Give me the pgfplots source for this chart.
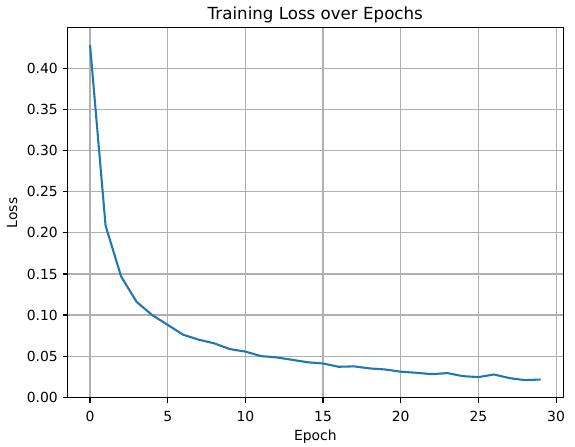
\documentclass[border=0pt]{standalone}
\usepackage{fontspec}
\setmainfont{DejaVu Sans}
\usepackage{pgfplots}
\pgfplotsset{compat=1.18}
\definecolor{tabblue}{HTML}{1F77B4}
\definecolor{gridgray}{HTML}{B0B0B0}
\begin{document}
\begin{tikzpicture}
\path[use as bounding box] (0,0) rectangle (414pt,321.8pt);
\begin{axis}[
  at={(48.6pt,35.5pt)}, anchor=south west,
  scale only axis, width=356.8pt, height=266.2pt,
  xmin=-1.45, xmax=30.45, ymin=-0.0006, ymax=0.4497,
  xtick={0,5,...,30},
  ytick={0,0.05,0.10,0.15,0.20,0.25,0.30,0.35,0.40},
  yticklabel style={/pgf/number format/.cd, fixed, fixed zerofill, precision=2},
  xticklabel style={yshift=-3pt},
  /pgf/number format/assume math mode=true,
  scaled y ticks=false,
  tick pos=left,
  tick align=outside, major tick length=3.5pt,
  tick style={black, line width=0.8pt},
  axis line style={line width=0.8pt},
  grid=major, major grid style={gridgray, line width=0.8pt},
  tick label style={font=\fontsize{10}{12}\selectfont},
  label style={font=\fontsize{10}{12}\selectfont},
  xlabel style={yshift=1.5pt},
  xlabel={Epoch}, ylabel={Loss},
]
\addplot[tabblue, line width=1.5pt] coordinates {
(0,0.429) (1,0.209) (2,0.147) (3,0.116) (4,0.100) (5,0.088) (6,0.076)
(7,0.070) (8,0.0655) (9,0.0585) (10,0.0555) (11,0.050) (12,0.0484)
(13,0.0455) (14,0.0425) (15,0.041) (16,0.037) (17,0.0375) (18,0.035)
(19,0.0337) (20,0.031) (21,0.0297) (22,0.028) (23,0.0293) (24,0.0256)
(25,0.0244) (26,0.0276) (27,0.0232) (28,0.0207) (29,0.0215)
};
\end{axis}
\node[font=\fontsize{12}{14}\selectfont, anchor=base, inner sep=0pt, yshift=6pt] at (current axis.north) {Training Loss over Epochs};
\end{tikzpicture}
\end{document}
